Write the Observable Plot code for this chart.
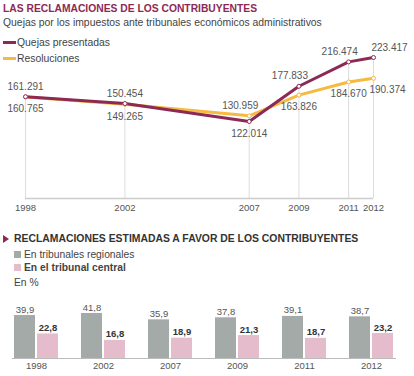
<!DOCTYPE html>
<html>
<head>
<meta charset="utf-8">
<script src="https://cdn.jsdelivr.net/npm/d3@7"></script>
<script src="https://cdn.jsdelivr.net/npm/@observablehq/plot@0.6"></script>
<style>
  html, body { margin: 0; padding: 0; background: #fff; }
  body { width: 414px; height: 376px; position: relative; overflow: hidden; font-family: "Liberation Sans", Arial, sans-serif; color: #444; }
  .abs { position: absolute; white-space: nowrap; }
  #t1 { left: 3px; top: 3px; font-size: 10.3px; font-weight: bold; color: #8c2a55; line-height: 12px; }
  #st1 { left: 3px; top: 17px; font-size: 10.4px; color: #444; line-height: 12px; }
  .leg1 { left: 3px; font-size: 10.4px; color: #444; line-height: 12px; }
  .leg1 .sw { display: inline-block; width: 13px; height: 3px; vertical-align: middle; margin-right: 1px; position: relative; top: -1px; }
  #t2 { left: 14px; top: 233px; font-size: 10.4px; font-weight: bold; color: #333; line-height: 12px; }
  #tri { left: 3px; top: 235px; width: 0; height: 0; border-top: 4.5px solid transparent; border-bottom: 4.5px solid transparent; border-left: 6px solid #8c2a55; }
  .leg2 { left: 14px; font-size: 10.3px; color: #444; line-height: 12px; }
  .leg2 .sq { display: inline-block; width: 7px; height: 7px; margin-right: 3px; vertical-align: middle; position: relative; top: -1px; }
  #c1 { left: 0; top: 30px; }
  #c2 { left: 0; top: 295px; }
</style>
</head>
<body>
<div id="c1" class="abs"></div>
<div id="c2" class="abs"></div>
<div id="t1" class="abs">LAS RECLAMACIONES DE LOS CONTRIBUYENTES</div>
<div id="st1" class="abs">Quejas por los impuestos ante tribunales económicos administrativos</div>
<div class="abs leg1" style="top:37px"><span class="sw" style="background:#8c2a55"></span>Quejas presentadas</div>
<div class="abs leg1" style="top:53px"><span class="sw" style="background:#f6b942"></span>Resoluciones</div>
<div id="tri" class="abs"></div>
<div id="t2" class="abs">RECLAMACIONES ESTIMADAS A FAVOR DE LOS CONTRIBUYENTES</div>
<div class="abs leg2" style="top:249px"><span class="sq" style="background:#a3aaa7"></span>En tribunales regionales</div>
<div class="abs leg2" style="top:262px;font-weight:bold"><span class="sq" style="background:#e4bccb"></span>En el tribunal central</div>
<div class="abs leg2" style="top:277px">En %</div>
<script>
// ---- Data ----
const years = [1998, 2002, 2007, 2009, 2011, 2012];
const quejas = [161291, 150454, 122014, 177833, 216474, 223417];
const resoluciones = [160765, 149265, 130959, 163826, 184670, 190374];

const barYears = ["1998", "2002", "2007", "2009", "2011", "2012"];
const regionales = [39.9, 41.8, 35.9, 37.8, 39.1, 38.7];
const central = [22.8, 16.8, 18.9, 21.3, 18.7, 23.2];

// ---- Colors ----
const cQ = "#8c2a55", cR = "#f6b942", cReg = "#a3aaa7", cCen = "#e4bccb";

const loc = d3.formatLocale({decimal: ",", thousands: ".", grouping: [3], currency: ["", "€"]});
const fmtInt = loc.format(",d");
const fmtDec = loc.format(".1f");

// ---- Line chart ----
function seriesRows(name, vals, other) {
  return years.map((y, i) => ({
    year: y, series: name, value: vals[i], other: other[i],
    above: vals[i] >= other[i],
    rising: i < vals.length - 1 && vals[i + 1] > vals[i],
    last: i === years.length - 1
  }));
}
const rowsQ = seriesRows("Quejas presentadas", quejas, resoluciones);
const rowsR = seriesRows("Resoluciones", resoluciones, quejas);
const rows = rowsR.concat(rowsQ);
const tops = years.map((y, i) => ({year: y, top: Math.max(quejas[i], resoluciones[i])}));

const labelStyle = {x: "year", y: "value", text: d => fmtInt(d.value), fill: "#555", fontSize: 10};

const chart1 = Plot.plot({
  width: 414, height: 190,
  marginLeft: 25, marginRight: 41, marginTop: 27, marginBottom: 22,
  style: {fontFamily: "'Liberation Sans', Arial, sans-serif", background: "transparent", overflow: "visible"},
  x: {type: "linear", domain: [1998, 2012]},
  y: {domain: [0, 223417], axis: null},
  marks: [
    Plot.ruleX(tops, {x: "year", y1: 0, y2: "top", stroke: "#ddd", strokeWidth: 1}),
    Plot.ruleY([0], {stroke: "#ccc", strokeWidth: 1.5}),
    Plot.axisX({ticks: years, tickSize: 0, tickPadding: 6, tickFormat: d => String(d), fontSize: 9.5, fill: "#555", label: null}),
    Plot.line(rowsR, {x: "year", y: "value", stroke: cR, strokeWidth: 3}),
    Plot.line(rowsQ, {x: "year", y: "value", stroke: cQ, strokeWidth: 3}),
    Plot.dot(rowsR, {x: "year", y: "value", r: 2, fill: "white", stroke: cR, strokeWidth: 1}),
    Plot.dot(rowsQ, {x: "year", y: "value", r: 2, fill: "white", stroke: cQ, strokeWidth: 1}),
    Plot.text(rows.filter(d => d.above && !d.last && !d.rising), {...labelStyle, dy: -10}),
    Plot.text(rows.filter(d => d.above && !d.last && d.rising), {...labelStyle, dy: -10, dx: -9}),
    Plot.text(rows.filter(d => !d.above && !d.last), {...labelStyle, dy: 12}),
    Plot.text(rows.filter(d => d.above && d.last), {...labelStyle, dy: -10, dx: 16}),
    Plot.text(rows.filter(d => !d.above && d.last), {...labelStyle, dy: 11, dx: 14})
  ]
});
document.getElementById("c1").appendChild(chart1);

// ---- Bar chart ----
const bars = [];
barYears.forEach((y, i) => {
  bars.push({year: y, serie: "reg", value: regionales[i]});
  bars.push({year: y, serie: "cen", value: central[i]});
});
const groups = barYears.map((y, i) => ({year: y, idx: i}));
const nG = barYears.length;
const baseStyle = {fx: "year", y: 0, stroke: "#bbb", strokeWidth: 1};

const chart2 = Plot.plot({
  width: 414, height: 81,
  marginLeft: 14, marginRight: 20, marginTop: 18, marginBottom: 18,
  style: {fontFamily: "'Liberation Sans', Arial, sans-serif", background: "transparent", overflow: "visible"},
  fx: {domain: barYears, paddingInner: 0.343, paddingOuter: 0, label: null, axis: null},
  x: {domain: ["reg", "cen"], paddingInner: 0.09, paddingOuter: 0, axis: null},
  y: {domain: [0, 41.8], axis: null},
  color: {domain: ["reg", "cen"], range: [cReg, cCen]},
  marks: [
    Plot.barY(bars, {fx: "year", x: "serie", y: "value", fill: "serie"}),
    Plot.ruleY(groups.filter(d => d.idx === 0), {...baseStyle, insetLeft: -2, insetRight: -12}),
    Plot.ruleY(groups.filter(d => d.idx > 0 && d.idx < nG - 1), {...baseStyle, insetLeft: -12, insetRight: -12}),
    Plot.ruleY(groups.filter(d => d.idx === nG - 1), {...baseStyle, insetLeft: -12, insetRight: -3}),
    Plot.axisFx({anchor: "bottom", tickSize: 0, tickPadding: 4, fontSize: 9.5, fill: "#555", label: null}),
    Plot.text(bars.filter(d => d.serie === "reg"), {fx: "year", x: "serie", y: "value", text: d => fmtDec(d.value), dy: -6, fontSize: 9.5, fill: "#555"}),
    Plot.text(bars.filter(d => d.serie === "cen"), {fx: "year", x: "serie", y: "value", text: d => fmtDec(d.value), dy: -6, fontSize: 9.5, fontWeight: "bold", fill: "#333"})
  ]
});
document.getElementById("c2").appendChild(chart2);
</script>
</body>
</html>
